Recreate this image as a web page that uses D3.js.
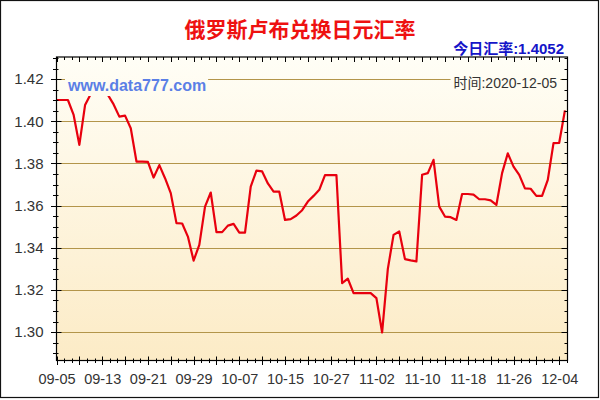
<!DOCTYPE html>
<html><head><meta charset="utf-8">
<script src="https://cdn.jsdelivr.net/npm/d3@7"></script>
<style>body{margin:0;background:#fff}svg{display:block}</style>
</head><body><svg id="c" width="600" height="400"></svg>
<script>
const title = "俄罗斯卢布兑换日元汇率";
const currentLabel = "今日汇率:1.4052";
const timeLabel = "时间:2020-12-05";
const watermark = "www.data777.com";
const xTickLabels = ["09-05","09-13","09-21","09-29","10-07","10-15","10-27","11-02","11-10","11-18","11-26","12-04"];
const labelStep = 8;
const yTicks = [1.30,1.32,1.34,1.36,1.38,1.40,1.42];
const rates = [
 1.4101,1.4101,1.4101,1.4030,1.3888,1.4077,1.4130,1.4165,1.4160,1.4125,
 1.4080,1.4022,1.4027,1.3967,1.3809,1.3809,1.3807,1.3733,1.3792,1.3730,
 1.3659,1.3517,1.3515,1.3453,1.3339,1.3414,1.3595,1.3662,1.3474,1.3474,
 1.3505,1.3513,1.3472,1.3472,1.3690,1.3766,1.3762,1.3705,1.3666,1.3666,
 1.3532,1.3536,1.3553,1.3578,1.3619,1.3646,1.3675,1.3745,1.3745,1.3745,
 1.3232,1.3253,1.3185,1.3185,1.3185,1.3185,1.3161,1.2998,1.3300,1.3461,
 1.3477,1.3346,1.3340,1.3335,1.3746,1.3754,1.3817,1.3595,1.3548,1.3545,
 1.3532,1.3655,1.3655,1.3652,1.3630,1.3630,1.3625,1.3603,1.3754,1.3848,
 1.3785,1.3746,1.3682,1.3680,1.3646,1.3646,1.3722,1.3896,1.3898,1.4052
];

const svg = d3.select("#c");
const L = 56.5, R = 567.5, T = 57, B = 360.5;
const x = d3.scaleLinear().domain([0, 89.45]).range([L, R]);
const y = d3.scaleLinear().domain([1.2865, 1.4305]).range([B, T]);
const latin = "'Liberation Sans', Arial, 'Noto Sans CJK SC', sans-serif";

const defs = svg.append("defs");
const g = defs.append("linearGradient").attr("id","bg").attr("gradientUnits","userSpaceOnUse")
  .attr("x1",0).attr("y1",T).attr("x2",0).attr("y2",B);
g.append("stop").attr("offset","0").attr("stop-color","#fffef6");
g.append("stop").attr("offset","1").attr("stop-color","#fcebc6");

// outer frame
svg.append("rect").attr("x",0.5).attr("y",0.5).attr("width",598).attr("height",397)
  .attr("fill","#fff").attr("stroke","#111").attr("stroke-width",1.2);

// plot background
svg.append("rect").attr("x",L).attr("y",T).attr("width",R-L).attr("height",B-T).attr("fill","url(#bg)");

// grid
svg.append("g").selectAll("line").data(yTicks).join("line")
  .attr("x1",L).attr("x2",R).attr("y1",d=>Math.round(y(d))+0.5).attr("y2",d=>Math.round(y(d))+0.5)
  .attr("stroke","#b3954a").attr("stroke-width",1);

// line
svg.append("path").datum(rates)
  .attr("fill","none").attr("stroke","#e8000e").attr("stroke-width",2.2)
  .attr("stroke-linejoin","round")
  .attr("d", d3.line().x((d,i)=>x(i)).y(d=>y(d)));

// text with background boxes
function boxedText(txt, tx, ty, size, weight, color, anchor, pad) {
  const grp = svg.append("g");
  const rect = grp.append("rect").attr("fill","url(#bg)");
  const t = grp.append("text").attr("x",tx).attr("y",ty).attr("text-anchor",anchor)
    .attr("font-family",latin).attr("font-size",size).attr("font-weight",weight)
    .attr("fill",color).text(txt);
  const bb = t.node().getBBox();
  rect.attr("x",bb.x-pad).attr("y",bb.y-pad).attr("width",bb.width+2*pad).attr("height",bb.height+2*pad);
}
boxedText(watermark, 68, 91, 16, "bold", "#5b7fe6", "start", 2);
boxedText(timeLabel, 557, 88, 14, "normal", "#333", "end", 3);

// axes
const xMinor = d3.range(0, 89.5, 4/3);
const xMajor = d3.range(0, 89.5, 4);
const yMinor = d3.range(0, 29).map(k => +(1.29 + k*0.005).toFixed(3)).filter(v => y(v) >= T - 0.5);

const ax = svg.append("g").attr("stroke","#000").attr("stroke-width",1);
// bottom ticks (cross)
ax.selectAll(".bm").data(xMinor).join("line")
  .attr("x1",d=>Math.round(x(d))+0.5).attr("x2",d=>Math.round(x(d))+0.5).attr("y1",B-2).attr("y2",B+2.5);
ax.selectAll(".bM").data(xMajor).join("line")
  .attr("x1",d=>Math.round(x(d))+0.5).attr("x2",d=>Math.round(x(d))+0.5).attr("y1",B-4).attr("y2",B+4.5);
// top ticks (inward)
ax.selectAll(".tm").data(xMinor).join("line")
  .attr("x1",d=>Math.round(x(d))+0.5).attr("x2",d=>Math.round(x(d))+0.5).attr("y1",T).attr("y2",T+3);
ax.selectAll(".tM").data(xMajor).join("line")
  .attr("x1",d=>Math.round(x(d))+0.5).attr("x2",d=>Math.round(x(d))+0.5).attr("y1",T).attr("y2",T+5);
// left ticks (cross)
ax.selectAll(".lm").data(yMinor).join("line")
  .attr("y1",d=>Math.round(y(d))+0.5).attr("y2",d=>Math.round(y(d))+0.5).attr("x1",L-3.5).attr("x2",L+2);
ax.selectAll(".lM").data(yTicks).join("line")
  .attr("y1",d=>Math.round(y(d))+0.5).attr("y2",d=>Math.round(y(d))+0.5).attr("x1",L-5.5).attr("x2",L+5);
// right ticks (inward)
ax.selectAll(".rm").data(yMinor).join("line")
  .attr("y1",d=>Math.round(y(d))+0.5).attr("y2",d=>Math.round(y(d))+0.5).attr("x1",R-3).attr("x2",R);
ax.selectAll(".rM").data(yTicks).join("line")
  .attr("y1",d=>Math.round(y(d))+0.5).attr("y2",d=>Math.round(y(d))+0.5).attr("x1",R-6).attr("x2",R);

// plot border
svg.append("rect").attr("x",L).attr("y",T).attr("width",R-L).attr("height",B-T)
  .attr("fill","none").attr("stroke","#000").attr("stroke-width",1.2);

// axis labels via d3 axes
const xAxis = d3.axisBottom(x).tickValues(xTickLabels.map((d,i)=>i*labelStep))
  .tickFormat((d,i)=>xTickLabels[i]).tickSize(0).tickPadding(13.5);
svg.append("g").attr("transform",`translate(0,${B})`).call(xAxis)
  .call(s=>s.select(".domain").remove())
  .selectAll("text").attr("font-family",latin).attr("font-size",14.5).attr("fill","#333");

const yAxis = d3.axisLeft(y).tickValues(yTicks).tickFormat(d3.format(".2f")).tickSize(0).tickPadding(13);
svg.append("g").attr("transform",`translate(${L},0)`).call(yAxis)
  .call(s=>s.select(".domain").remove())
  .selectAll("text").attr("font-family",latin).attr("font-size",15).attr("fill","#333");

// titles
svg.append("text").attr("x",300).attr("y",37).attr("text-anchor","middle")
  .attr("font-family","'Noto Sans CJK SC', sans-serif").attr("font-size",21).attr("font-weight","bold")
  .attr("fill","#ee1111").text(title);
svg.append("text").attr("x",564).attr("y",54).attr("text-anchor","end")
  .attr("font-family",latin).attr("font-size",15).attr("font-weight","bold")
  .attr("fill","#1515c8").text(currentLabel);
</script></body></html>
